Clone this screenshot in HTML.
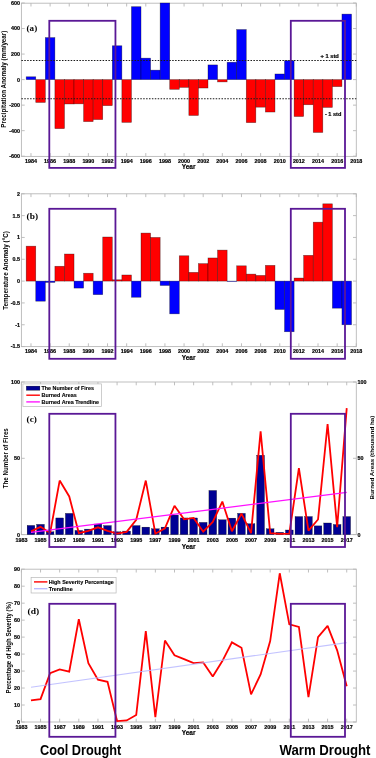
<!DOCTYPE html>
<html><head><meta charset="utf-8"><title>Figure</title>
<style>
html,body{margin:0;padding:0;background:#fff;}
body{width:376px;height:758px;overflow:hidden;}
svg{display:block;will-change:transform;filter:blur(0.25px);}
.t{font-family:"Liberation Sans", sans-serif;font-weight:bold;font-size:5.4px;fill:#000;stroke:#000;stroke-width:0.18px;}
.lg{font-family:"Liberation Sans", sans-serif;font-weight:bold;font-size:5.4px;fill:#000;stroke:#000;stroke-width:0.12px;}
.yl{font-family:"Liberation Sans", sans-serif;font-weight:bold;font-size:6.5px;fill:#000;stroke:#000;stroke-width:0.15px;}
.dr{font-family:"Liberation Sans", sans-serif;font-weight:bold;font-size:13.8px;fill:#000;}
.bb{fill:#0000ff;stroke:#000;stroke-opacity:0.5;stroke-width:0.6;}
.rr{fill:#ff0000;stroke:#000;stroke-opacity:0.5;stroke-width:0.6;}
</style></head>
<body>
<svg width="376" height="758" viewBox="0 0 376 758">
<rect width="376" height="758" fill="#fff"/>
<rect x="21.4" y="3.2" width="334.9" height="153.2" fill="none" stroke="#b8b8b8" stroke-width="0.9"/>
<line x1="30.97" y1="156.4" x2="30.97" y2="153.1" stroke="#b8b8b8" stroke-width="0.9"/>
<line x1="30.97" y1="3.2" x2="30.97" y2="6.5" stroke="#b8b8b8" stroke-width="0.9"/>
<text x="30.97" y="162.7" text-anchor="middle" class="t">1984</text>
<line x1="50.11" y1="156.4" x2="50.11" y2="153.1" stroke="#b8b8b8" stroke-width="0.9"/>
<line x1="50.11" y1="3.2" x2="50.11" y2="6.5" stroke="#b8b8b8" stroke-width="0.9"/>
<text x="50.11" y="162.7" text-anchor="middle" class="t">1986</text>
<line x1="69.24" y1="156.4" x2="69.24" y2="153.1" stroke="#b8b8b8" stroke-width="0.9"/>
<line x1="69.24" y1="3.2" x2="69.24" y2="6.5" stroke="#b8b8b8" stroke-width="0.9"/>
<text x="69.24" y="162.7" text-anchor="middle" class="t">1988</text>
<line x1="88.38" y1="156.4" x2="88.38" y2="153.1" stroke="#b8b8b8" stroke-width="0.9"/>
<line x1="88.38" y1="3.2" x2="88.38" y2="6.5" stroke="#b8b8b8" stroke-width="0.9"/>
<text x="88.38" y="162.7" text-anchor="middle" class="t">1990</text>
<line x1="107.52" y1="156.4" x2="107.52" y2="153.1" stroke="#b8b8b8" stroke-width="0.9"/>
<line x1="107.52" y1="3.2" x2="107.52" y2="6.5" stroke="#b8b8b8" stroke-width="0.9"/>
<text x="107.52" y="162.7" text-anchor="middle" class="t">1992</text>
<line x1="126.65" y1="156.4" x2="126.65" y2="153.1" stroke="#b8b8b8" stroke-width="0.9"/>
<line x1="126.65" y1="3.2" x2="126.65" y2="6.5" stroke="#b8b8b8" stroke-width="0.9"/>
<text x="126.65" y="162.7" text-anchor="middle" class="t">1994</text>
<line x1="145.79" y1="156.4" x2="145.79" y2="153.1" stroke="#b8b8b8" stroke-width="0.9"/>
<line x1="145.79" y1="3.2" x2="145.79" y2="6.5" stroke="#b8b8b8" stroke-width="0.9"/>
<text x="145.79" y="162.7" text-anchor="middle" class="t">1996</text>
<line x1="164.93" y1="156.4" x2="164.93" y2="153.1" stroke="#b8b8b8" stroke-width="0.9"/>
<line x1="164.93" y1="3.2" x2="164.93" y2="6.5" stroke="#b8b8b8" stroke-width="0.9"/>
<text x="164.93" y="162.7" text-anchor="middle" class="t">1998</text>
<line x1="184.07" y1="156.4" x2="184.07" y2="153.1" stroke="#b8b8b8" stroke-width="0.9"/>
<line x1="184.07" y1="3.2" x2="184.07" y2="6.5" stroke="#b8b8b8" stroke-width="0.9"/>
<text x="184.07" y="162.7" text-anchor="middle" class="t">2000</text>
<line x1="203.2" y1="156.4" x2="203.2" y2="153.1" stroke="#b8b8b8" stroke-width="0.9"/>
<line x1="203.2" y1="3.2" x2="203.2" y2="6.5" stroke="#b8b8b8" stroke-width="0.9"/>
<text x="203.2" y="162.7" text-anchor="middle" class="t">2002</text>
<line x1="222.34" y1="156.4" x2="222.34" y2="153.1" stroke="#b8b8b8" stroke-width="0.9"/>
<line x1="222.34" y1="3.2" x2="222.34" y2="6.5" stroke="#b8b8b8" stroke-width="0.9"/>
<text x="222.34" y="162.7" text-anchor="middle" class="t">2004</text>
<line x1="241.48" y1="156.4" x2="241.48" y2="153.1" stroke="#b8b8b8" stroke-width="0.9"/>
<line x1="241.48" y1="3.2" x2="241.48" y2="6.5" stroke="#b8b8b8" stroke-width="0.9"/>
<text x="241.48" y="162.7" text-anchor="middle" class="t">2006</text>
<line x1="260.61" y1="156.4" x2="260.61" y2="153.1" stroke="#b8b8b8" stroke-width="0.9"/>
<line x1="260.61" y1="3.2" x2="260.61" y2="6.5" stroke="#b8b8b8" stroke-width="0.9"/>
<text x="260.61" y="162.7" text-anchor="middle" class="t">2008</text>
<line x1="279.75" y1="156.4" x2="279.75" y2="153.1" stroke="#b8b8b8" stroke-width="0.9"/>
<line x1="279.75" y1="3.2" x2="279.75" y2="6.5" stroke="#b8b8b8" stroke-width="0.9"/>
<text x="279.75" y="162.7" text-anchor="middle" class="t">2010</text>
<line x1="298.89" y1="156.4" x2="298.89" y2="153.1" stroke="#b8b8b8" stroke-width="0.9"/>
<line x1="298.89" y1="3.2" x2="298.89" y2="6.5" stroke="#b8b8b8" stroke-width="0.9"/>
<text x="298.89" y="162.7" text-anchor="middle" class="t">2012</text>
<line x1="318.03" y1="156.4" x2="318.03" y2="153.1" stroke="#b8b8b8" stroke-width="0.9"/>
<line x1="318.03" y1="3.2" x2="318.03" y2="6.5" stroke="#b8b8b8" stroke-width="0.9"/>
<text x="318.03" y="162.7" text-anchor="middle" class="t">2014</text>
<line x1="337.16" y1="156.4" x2="337.16" y2="153.1" stroke="#b8b8b8" stroke-width="0.9"/>
<line x1="337.16" y1="3.2" x2="337.16" y2="6.5" stroke="#b8b8b8" stroke-width="0.9"/>
<text x="337.16" y="162.7" text-anchor="middle" class="t">2016</text>
<line x1="356.3" y1="156.4" x2="356.3" y2="153.1" stroke="#b8b8b8" stroke-width="0.9"/>
<line x1="356.3" y1="3.2" x2="356.3" y2="6.5" stroke="#b8b8b8" stroke-width="0.9"/>
<text x="356.3" y="162.7" text-anchor="middle" class="t">2018</text>
<line x1="21.4" y1="3" x2="24.7" y2="3" stroke="#b8b8b8" stroke-width="0.9"/>
<line x1="356.3" y1="3" x2="353" y2="3" stroke="#b8b8b8" stroke-width="0.9"/>
<text x="20" y="4.9" text-anchor="end" class="t">600</text>
<line x1="21.4" y1="28.53" x2="24.7" y2="28.53" stroke="#b8b8b8" stroke-width="0.9"/>
<line x1="356.3" y1="28.53" x2="353" y2="28.53" stroke="#b8b8b8" stroke-width="0.9"/>
<text x="20" y="30.43" text-anchor="end" class="t">400</text>
<line x1="21.4" y1="54.07" x2="24.7" y2="54.07" stroke="#b8b8b8" stroke-width="0.9"/>
<line x1="356.3" y1="54.07" x2="353" y2="54.07" stroke="#b8b8b8" stroke-width="0.9"/>
<text x="20" y="55.97" text-anchor="end" class="t">200</text>
<line x1="21.4" y1="79.6" x2="24.7" y2="79.6" stroke="#b8b8b8" stroke-width="0.9"/>
<line x1="356.3" y1="79.6" x2="353" y2="79.6" stroke="#b8b8b8" stroke-width="0.9"/>
<text x="20" y="81.5" text-anchor="end" class="t">0</text>
<line x1="21.4" y1="105.13" x2="24.7" y2="105.13" stroke="#b8b8b8" stroke-width="0.9"/>
<line x1="356.3" y1="105.13" x2="353" y2="105.13" stroke="#b8b8b8" stroke-width="0.9"/>
<text x="20" y="107.03" text-anchor="end" class="t">-200</text>
<line x1="21.4" y1="130.67" x2="24.7" y2="130.67" stroke="#b8b8b8" stroke-width="0.9"/>
<line x1="356.3" y1="130.67" x2="353" y2="130.67" stroke="#b8b8b8" stroke-width="0.9"/>
<text x="20" y="132.57" text-anchor="end" class="t">-400</text>
<line x1="21.4" y1="156.2" x2="24.7" y2="156.2" stroke="#b8b8b8" stroke-width="0.9"/>
<line x1="356.3" y1="156.2" x2="353" y2="156.2" stroke="#b8b8b8" stroke-width="0.9"/>
<text x="20" y="158.1" text-anchor="end" class="t">-600</text>
<rect x="26.18" y="76.79" width="9.57" height="2.81" class="bb"/>
<rect x="35.75" y="79.6" width="9.57" height="22.85" class="rr"/>
<rect x="45.32" y="37.6" width="9.57" height="42" class="bb"/>
<rect x="54.89" y="79.6" width="9.57" height="49.02" class="rr"/>
<rect x="64.46" y="79.6" width="9.57" height="24.38" class="rr"/>
<rect x="74.03" y="79.6" width="9.57" height="24.26" class="rr"/>
<rect x="83.6" y="79.6" width="9.57" height="42" class="rr"/>
<rect x="93.16" y="79.6" width="9.57" height="39.96" class="rr"/>
<rect x="102.73" y="79.6" width="9.57" height="26.04" class="rr"/>
<rect x="112.3" y="45.77" width="9.57" height="33.83" class="bb"/>
<rect x="121.87" y="79.6" width="9.57" height="42.77" class="rr"/>
<rect x="131.44" y="6.7" width="9.57" height="72.9" class="bb"/>
<rect x="141.01" y="58.15" width="9.57" height="21.45" class="bb"/>
<rect x="150.58" y="70.15" width="9.57" height="9.45" class="bb"/>
<rect x="160.14" y="3" width="9.57" height="76.6" class="bb"/>
<rect x="169.71" y="79.6" width="9.57" height="9.7" class="rr"/>
<rect x="179.28" y="79.6" width="9.57" height="7.79" class="rr"/>
<rect x="188.85" y="79.6" width="9.57" height="35.87" class="rr"/>
<rect x="198.42" y="79.6" width="9.57" height="8.43" class="rr"/>
<rect x="207.99" y="64.92" width="9.57" height="14.68" class="bb"/>
<rect x="217.56" y="79.6" width="9.57" height="2.3" class="rr"/>
<rect x="227.12" y="62.24" width="9.57" height="17.36" class="bb"/>
<rect x="236.69" y="29.55" width="9.57" height="50.05" class="bb"/>
<rect x="246.26" y="79.6" width="9.57" height="43.02" class="rr"/>
<rect x="255.83" y="79.6" width="9.57" height="27.58" class="rr"/>
<rect x="265.4" y="79.6" width="9.57" height="32.43" class="rr"/>
<rect x="274.97" y="73.98" width="9.57" height="5.62" class="bb"/>
<rect x="284.54" y="60.71" width="9.57" height="18.89" class="bb"/>
<rect x="294.1" y="79.6" width="9.57" height="36.9" class="rr"/>
<rect x="303.67" y="79.6" width="9.57" height="25.15" class="rr"/>
<rect x="313.24" y="79.6" width="9.57" height="52.85" class="rr"/>
<rect x="322.81" y="79.6" width="9.57" height="27.83" class="rr"/>
<rect x="332.38" y="79.6" width="9.57" height="7.02" class="rr"/>
<rect x="341.95" y="14.11" width="9.57" height="65.49" class="bb"/>
<line x1="21.4" y1="60.45" x2="356.3" y2="60.45" stroke="#1a1a1a" stroke-width="1.1" stroke-dasharray="1.5 1.4"/>
<line x1="21.4" y1="98.75" x2="356.3" y2="98.75" stroke="#1a1a1a" stroke-width="1.1" stroke-dasharray="1.5 1.4"/>
<text x="320.6" y="57.9" class="t" textLength="18.2" lengthAdjust="spacingAndGlyphs">+ 1 std</text>
<text x="324.9" y="115.8" class="t" textLength="16.4" lengthAdjust="spacingAndGlyphs">- 1 std</text>
<text x="26.6" y="31" font-family='"Liberation Serif", serif' font-weight="bold" font-size="9" textLength="10.6" lengthAdjust="spacingAndGlyphs">(a)</text>
<text x="188.6" y="169.3" text-anchor="middle" class="yl">Year</text>
<text x="6" y="79.2" transform="rotate(-90 6 79.2)" text-anchor="middle" font-size="6.4" font-weight="bold" font-family='"Liberation Sans", sans-serif' textLength="97" lengthAdjust="spacingAndGlyphs">Precipitation Anomaly (mm/year)</text>
<rect x="49.3" y="20.8" width="66.15" height="147.1" fill="none" stroke="#5a1896" stroke-width="1.8"/>
<rect x="290.8" y="20.8" width="54.2" height="147.1" fill="none" stroke="#5a1896" stroke-width="1.8"/>
<rect x="21.4" y="193.8" width="334.9" height="152.8" fill="none" stroke="#b8b8b8" stroke-width="0.9"/>
<line x1="30.97" y1="346.6" x2="30.97" y2="343.3" stroke="#b8b8b8" stroke-width="0.9"/>
<line x1="30.97" y1="193.8" x2="30.97" y2="197.1" stroke="#b8b8b8" stroke-width="0.9"/>
<text x="30.97" y="353" text-anchor="middle" class="t">1984</text>
<line x1="50.11" y1="346.6" x2="50.11" y2="343.3" stroke="#b8b8b8" stroke-width="0.9"/>
<line x1="50.11" y1="193.8" x2="50.11" y2="197.1" stroke="#b8b8b8" stroke-width="0.9"/>
<text x="50.11" y="353" text-anchor="middle" class="t">1986</text>
<line x1="69.24" y1="346.6" x2="69.24" y2="343.3" stroke="#b8b8b8" stroke-width="0.9"/>
<line x1="69.24" y1="193.8" x2="69.24" y2="197.1" stroke="#b8b8b8" stroke-width="0.9"/>
<text x="69.24" y="353" text-anchor="middle" class="t">1988</text>
<line x1="88.38" y1="346.6" x2="88.38" y2="343.3" stroke="#b8b8b8" stroke-width="0.9"/>
<line x1="88.38" y1="193.8" x2="88.38" y2="197.1" stroke="#b8b8b8" stroke-width="0.9"/>
<text x="88.38" y="353" text-anchor="middle" class="t">1990</text>
<line x1="107.52" y1="346.6" x2="107.52" y2="343.3" stroke="#b8b8b8" stroke-width="0.9"/>
<line x1="107.52" y1="193.8" x2="107.52" y2="197.1" stroke="#b8b8b8" stroke-width="0.9"/>
<text x="107.52" y="353" text-anchor="middle" class="t">1992</text>
<line x1="126.65" y1="346.6" x2="126.65" y2="343.3" stroke="#b8b8b8" stroke-width="0.9"/>
<line x1="126.65" y1="193.8" x2="126.65" y2="197.1" stroke="#b8b8b8" stroke-width="0.9"/>
<text x="126.65" y="353" text-anchor="middle" class="t">1994</text>
<line x1="145.79" y1="346.6" x2="145.79" y2="343.3" stroke="#b8b8b8" stroke-width="0.9"/>
<line x1="145.79" y1="193.8" x2="145.79" y2="197.1" stroke="#b8b8b8" stroke-width="0.9"/>
<text x="145.79" y="353" text-anchor="middle" class="t">1996</text>
<line x1="164.93" y1="346.6" x2="164.93" y2="343.3" stroke="#b8b8b8" stroke-width="0.9"/>
<line x1="164.93" y1="193.8" x2="164.93" y2="197.1" stroke="#b8b8b8" stroke-width="0.9"/>
<text x="164.93" y="353" text-anchor="middle" class="t">1998</text>
<line x1="184.07" y1="346.6" x2="184.07" y2="343.3" stroke="#b8b8b8" stroke-width="0.9"/>
<line x1="184.07" y1="193.8" x2="184.07" y2="197.1" stroke="#b8b8b8" stroke-width="0.9"/>
<text x="184.07" y="353" text-anchor="middle" class="t">2000</text>
<line x1="203.2" y1="346.6" x2="203.2" y2="343.3" stroke="#b8b8b8" stroke-width="0.9"/>
<line x1="203.2" y1="193.8" x2="203.2" y2="197.1" stroke="#b8b8b8" stroke-width="0.9"/>
<text x="203.2" y="353" text-anchor="middle" class="t">2002</text>
<line x1="222.34" y1="346.6" x2="222.34" y2="343.3" stroke="#b8b8b8" stroke-width="0.9"/>
<line x1="222.34" y1="193.8" x2="222.34" y2="197.1" stroke="#b8b8b8" stroke-width="0.9"/>
<text x="222.34" y="353" text-anchor="middle" class="t">2004</text>
<line x1="241.48" y1="346.6" x2="241.48" y2="343.3" stroke="#b8b8b8" stroke-width="0.9"/>
<line x1="241.48" y1="193.8" x2="241.48" y2="197.1" stroke="#b8b8b8" stroke-width="0.9"/>
<text x="241.48" y="353" text-anchor="middle" class="t">2006</text>
<line x1="260.61" y1="346.6" x2="260.61" y2="343.3" stroke="#b8b8b8" stroke-width="0.9"/>
<line x1="260.61" y1="193.8" x2="260.61" y2="197.1" stroke="#b8b8b8" stroke-width="0.9"/>
<text x="260.61" y="353" text-anchor="middle" class="t">2008</text>
<line x1="279.75" y1="346.6" x2="279.75" y2="343.3" stroke="#b8b8b8" stroke-width="0.9"/>
<line x1="279.75" y1="193.8" x2="279.75" y2="197.1" stroke="#b8b8b8" stroke-width="0.9"/>
<text x="279.75" y="353" text-anchor="middle" class="t">2010</text>
<line x1="298.89" y1="346.6" x2="298.89" y2="343.3" stroke="#b8b8b8" stroke-width="0.9"/>
<line x1="298.89" y1="193.8" x2="298.89" y2="197.1" stroke="#b8b8b8" stroke-width="0.9"/>
<text x="298.89" y="353" text-anchor="middle" class="t">2012</text>
<line x1="318.03" y1="346.6" x2="318.03" y2="343.3" stroke="#b8b8b8" stroke-width="0.9"/>
<line x1="318.03" y1="193.8" x2="318.03" y2="197.1" stroke="#b8b8b8" stroke-width="0.9"/>
<text x="318.03" y="353" text-anchor="middle" class="t">2014</text>
<line x1="337.16" y1="346.6" x2="337.16" y2="343.3" stroke="#b8b8b8" stroke-width="0.9"/>
<line x1="337.16" y1="193.8" x2="337.16" y2="197.1" stroke="#b8b8b8" stroke-width="0.9"/>
<text x="337.16" y="353" text-anchor="middle" class="t">2016</text>
<line x1="356.3" y1="346.6" x2="356.3" y2="343.3" stroke="#b8b8b8" stroke-width="0.9"/>
<line x1="356.3" y1="193.8" x2="356.3" y2="197.1" stroke="#b8b8b8" stroke-width="0.9"/>
<text x="356.3" y="353" text-anchor="middle" class="t">2018</text>
<line x1="21.4" y1="193.79" x2="24.7" y2="193.79" stroke="#b8b8b8" stroke-width="0.9"/>
<line x1="356.3" y1="193.79" x2="353" y2="193.79" stroke="#b8b8b8" stroke-width="0.9"/>
<text x="20" y="195.69" text-anchor="end" class="t">2</text>
<line x1="21.4" y1="215.61" x2="24.7" y2="215.61" stroke="#b8b8b8" stroke-width="0.9"/>
<line x1="356.3" y1="215.61" x2="353" y2="215.61" stroke="#b8b8b8" stroke-width="0.9"/>
<text x="20" y="217.51" text-anchor="end" class="t">1.5</text>
<line x1="21.4" y1="237.44" x2="24.7" y2="237.44" stroke="#b8b8b8" stroke-width="0.9"/>
<line x1="356.3" y1="237.44" x2="353" y2="237.44" stroke="#b8b8b8" stroke-width="0.9"/>
<text x="20" y="239.34" text-anchor="end" class="t">1</text>
<line x1="21.4" y1="259.27" x2="24.7" y2="259.27" stroke="#b8b8b8" stroke-width="0.9"/>
<line x1="356.3" y1="259.27" x2="353" y2="259.27" stroke="#b8b8b8" stroke-width="0.9"/>
<text x="20" y="261.17" text-anchor="end" class="t">0.5</text>
<line x1="21.4" y1="281.1" x2="24.7" y2="281.1" stroke="#b8b8b8" stroke-width="0.9"/>
<line x1="356.3" y1="281.1" x2="353" y2="281.1" stroke="#b8b8b8" stroke-width="0.9"/>
<text x="20" y="283" text-anchor="end" class="t">0</text>
<line x1="21.4" y1="302.93" x2="24.7" y2="302.93" stroke="#b8b8b8" stroke-width="0.9"/>
<line x1="356.3" y1="302.93" x2="353" y2="302.93" stroke="#b8b8b8" stroke-width="0.9"/>
<text x="20" y="304.83" text-anchor="end" class="t">-0.5</text>
<line x1="21.4" y1="324.76" x2="24.7" y2="324.76" stroke="#b8b8b8" stroke-width="0.9"/>
<line x1="356.3" y1="324.76" x2="353" y2="324.76" stroke="#b8b8b8" stroke-width="0.9"/>
<text x="20" y="326.66" text-anchor="end" class="t">-1</text>
<line x1="21.4" y1="346.59" x2="24.7" y2="346.59" stroke="#b8b8b8" stroke-width="0.9"/>
<line x1="356.3" y1="346.59" x2="353" y2="346.59" stroke="#b8b8b8" stroke-width="0.9"/>
<text x="20" y="348.49" text-anchor="end" class="t">-1.5</text>
<rect x="26.18" y="246.17" width="9.57" height="34.93" class="rr"/>
<rect x="35.75" y="281.1" width="9.57" height="20.08" class="bb"/>
<rect x="45.32" y="281.1" width="9.57" height="1.31" class="bb"/>
<rect x="54.89" y="266.26" width="9.57" height="14.84" class="rr"/>
<rect x="64.46" y="254.03" width="9.57" height="27.07" class="rr"/>
<rect x="74.03" y="281.1" width="9.57" height="6.99" class="bb"/>
<rect x="83.6" y="273.24" width="9.57" height="7.86" class="rr"/>
<rect x="93.16" y="281.1" width="9.57" height="13.53" class="bb"/>
<rect x="102.73" y="237.01" width="9.57" height="44.09" class="rr"/>
<rect x="112.3" y="279.79" width="9.57" height="1.31" class="rr"/>
<rect x="121.87" y="274.99" width="9.57" height="6.11" class="rr"/>
<rect x="131.44" y="281.1" width="9.57" height="16.15" class="bb"/>
<rect x="141.01" y="233.08" width="9.57" height="48.02" class="rr"/>
<rect x="150.58" y="237.44" width="9.57" height="43.66" class="rr"/>
<rect x="160.14" y="281.1" width="9.57" height="4.37" class="bb"/>
<rect x="169.71" y="281.1" width="9.57" height="32.74" class="bb"/>
<rect x="179.28" y="255.78" width="9.57" height="25.32" class="rr"/>
<rect x="188.85" y="272.37" width="9.57" height="8.73" class="rr"/>
<rect x="198.42" y="263.64" width="9.57" height="17.46" class="rr"/>
<rect x="207.99" y="257.96" width="9.57" height="23.14" class="rr"/>
<rect x="217.56" y="250.1" width="9.57" height="31" class="rr"/>
<rect x="227.12" y="281.1" width="9.57" height="0.44" class="bb"/>
<rect x="236.69" y="265.82" width="9.57" height="15.28" class="rr"/>
<rect x="246.26" y="274.11" width="9.57" height="6.99" class="rr"/>
<rect x="255.83" y="275.42" width="9.57" height="5.68" class="rr"/>
<rect x="265.4" y="265.38" width="9.57" height="15.72" class="rr"/>
<rect x="274.97" y="281.1" width="9.57" height="28.38" class="bb"/>
<rect x="284.54" y="281.1" width="9.57" height="50.64" class="bb"/>
<rect x="294.1" y="278.04" width="9.57" height="3.06" class="rr"/>
<rect x="303.67" y="255.34" width="9.57" height="25.76" class="rr"/>
<rect x="313.24" y="222.16" width="9.57" height="58.94" class="rr"/>
<rect x="322.81" y="203.83" width="9.57" height="77.27" class="rr"/>
<rect x="332.38" y="281.1" width="9.57" height="27.07" class="bb"/>
<rect x="341.95" y="281.1" width="9.57" height="43.66" class="bb"/>
<text x="26.6" y="218.8" font-family='"Liberation Serif", serif' font-weight="bold" font-size="9" textLength="11.4" lengthAdjust="spacingAndGlyphs">(b)</text>
<text x="188.6" y="359.7" text-anchor="middle" class="yl">Year</text>
<text x="8" y="270.5" transform="rotate(-90 8 270.5)" text-anchor="middle" font-size="6.8" font-weight="bold" font-family='"Liberation Sans", sans-serif' textLength="78.7" lengthAdjust="spacingAndGlyphs">Temperature Anomaly (°C)</text>
<rect x="49.3" y="208.8" width="66.15" height="150" fill="none" stroke="#5a1896" stroke-width="1.8"/>
<rect x="290.8" y="208.8" width="54.2" height="150" fill="none" stroke="#5a1896" stroke-width="1.8"/>
<rect x="21.4" y="382" width="334.9" height="152.6" fill="none" stroke="#b8b8b8" stroke-width="0.9"/>
<line x1="21.4" y1="534.6" x2="21.4" y2="531.3" stroke="#b8b8b8" stroke-width="0.9"/>
<line x1="21.4" y1="382" x2="21.4" y2="385.3" stroke="#b8b8b8" stroke-width="0.9"/>
<text x="21.4" y="541.6" text-anchor="middle" class="t">1983</text>
<line x1="40.54" y1="534.6" x2="40.54" y2="531.3" stroke="#b8b8b8" stroke-width="0.9"/>
<line x1="40.54" y1="382" x2="40.54" y2="385.3" stroke="#b8b8b8" stroke-width="0.9"/>
<text x="40.54" y="541.6" text-anchor="middle" class="t">1985</text>
<line x1="59.67" y1="534.6" x2="59.67" y2="531.3" stroke="#b8b8b8" stroke-width="0.9"/>
<line x1="59.67" y1="382" x2="59.67" y2="385.3" stroke="#b8b8b8" stroke-width="0.9"/>
<text x="59.67" y="541.6" text-anchor="middle" class="t">1987</text>
<line x1="78.81" y1="534.6" x2="78.81" y2="531.3" stroke="#b8b8b8" stroke-width="0.9"/>
<line x1="78.81" y1="382" x2="78.81" y2="385.3" stroke="#b8b8b8" stroke-width="0.9"/>
<text x="78.81" y="541.6" text-anchor="middle" class="t">1989</text>
<line x1="97.95" y1="534.6" x2="97.95" y2="531.3" stroke="#b8b8b8" stroke-width="0.9"/>
<line x1="97.95" y1="382" x2="97.95" y2="385.3" stroke="#b8b8b8" stroke-width="0.9"/>
<text x="97.95" y="541.6" text-anchor="middle" class="t">1991</text>
<line x1="117.09" y1="534.6" x2="117.09" y2="531.3" stroke="#b8b8b8" stroke-width="0.9"/>
<line x1="117.09" y1="382" x2="117.09" y2="385.3" stroke="#b8b8b8" stroke-width="0.9"/>
<text x="117.09" y="541.6" text-anchor="middle" class="t">1993</text>
<line x1="136.22" y1="534.6" x2="136.22" y2="531.3" stroke="#b8b8b8" stroke-width="0.9"/>
<line x1="136.22" y1="382" x2="136.22" y2="385.3" stroke="#b8b8b8" stroke-width="0.9"/>
<text x="136.22" y="541.6" text-anchor="middle" class="t">1995</text>
<line x1="155.36" y1="534.6" x2="155.36" y2="531.3" stroke="#b8b8b8" stroke-width="0.9"/>
<line x1="155.36" y1="382" x2="155.36" y2="385.3" stroke="#b8b8b8" stroke-width="0.9"/>
<text x="155.36" y="541.6" text-anchor="middle" class="t">1997</text>
<line x1="174.5" y1="534.6" x2="174.5" y2="531.3" stroke="#b8b8b8" stroke-width="0.9"/>
<line x1="174.5" y1="382" x2="174.5" y2="385.3" stroke="#b8b8b8" stroke-width="0.9"/>
<text x="174.5" y="541.6" text-anchor="middle" class="t">1999</text>
<line x1="193.63" y1="534.6" x2="193.63" y2="531.3" stroke="#b8b8b8" stroke-width="0.9"/>
<line x1="193.63" y1="382" x2="193.63" y2="385.3" stroke="#b8b8b8" stroke-width="0.9"/>
<text x="193.63" y="541.6" text-anchor="middle" class="t">2001</text>
<line x1="212.77" y1="534.6" x2="212.77" y2="531.3" stroke="#b8b8b8" stroke-width="0.9"/>
<line x1="212.77" y1="382" x2="212.77" y2="385.3" stroke="#b8b8b8" stroke-width="0.9"/>
<text x="212.77" y="541.6" text-anchor="middle" class="t">2003</text>
<line x1="231.91" y1="534.6" x2="231.91" y2="531.3" stroke="#b8b8b8" stroke-width="0.9"/>
<line x1="231.91" y1="382" x2="231.91" y2="385.3" stroke="#b8b8b8" stroke-width="0.9"/>
<text x="231.91" y="541.6" text-anchor="middle" class="t">2005</text>
<line x1="251.05" y1="534.6" x2="251.05" y2="531.3" stroke="#b8b8b8" stroke-width="0.9"/>
<line x1="251.05" y1="382" x2="251.05" y2="385.3" stroke="#b8b8b8" stroke-width="0.9"/>
<text x="251.05" y="541.6" text-anchor="middle" class="t">2007</text>
<line x1="270.18" y1="534.6" x2="270.18" y2="531.3" stroke="#b8b8b8" stroke-width="0.9"/>
<line x1="270.18" y1="382" x2="270.18" y2="385.3" stroke="#b8b8b8" stroke-width="0.9"/>
<text x="270.18" y="541.6" text-anchor="middle" class="t">2009</text>
<line x1="289.32" y1="534.6" x2="289.32" y2="531.3" stroke="#b8b8b8" stroke-width="0.9"/>
<line x1="289.32" y1="382" x2="289.32" y2="385.3" stroke="#b8b8b8" stroke-width="0.9"/>
<text x="289.32" y="541.6" text-anchor="middle" class="t">2011</text>
<line x1="308.46" y1="534.6" x2="308.46" y2="531.3" stroke="#b8b8b8" stroke-width="0.9"/>
<line x1="308.46" y1="382" x2="308.46" y2="385.3" stroke="#b8b8b8" stroke-width="0.9"/>
<text x="308.46" y="541.6" text-anchor="middle" class="t">2013</text>
<line x1="327.59" y1="534.6" x2="327.59" y2="531.3" stroke="#b8b8b8" stroke-width="0.9"/>
<line x1="327.59" y1="382" x2="327.59" y2="385.3" stroke="#b8b8b8" stroke-width="0.9"/>
<text x="327.59" y="541.6" text-anchor="middle" class="t">2015</text>
<line x1="346.73" y1="534.6" x2="346.73" y2="531.3" stroke="#b8b8b8" stroke-width="0.9"/>
<line x1="346.73" y1="382" x2="346.73" y2="385.3" stroke="#b8b8b8" stroke-width="0.9"/>
<text x="346.73" y="541.6" text-anchor="middle" class="t">2017</text>
<line x1="21.4" y1="534.6" x2="24.7" y2="534.6" stroke="#b8b8b8" stroke-width="0.9"/>
<line x1="356.3" y1="534.6" x2="353" y2="534.6" stroke="#b8b8b8" stroke-width="0.9"/>
<text x="20" y="536.5" text-anchor="end" class="t">0</text>
<text x="357.6" y="536.5" text-anchor="start" class="t">0</text>
<line x1="21.4" y1="458.3" x2="24.7" y2="458.3" stroke="#b8b8b8" stroke-width="0.9"/>
<line x1="356.3" y1="458.3" x2="353" y2="458.3" stroke="#b8b8b8" stroke-width="0.9"/>
<text x="20" y="460.2" text-anchor="end" class="t">50</text>
<text x="357.6" y="460.2" text-anchor="start" class="t">50</text>
<line x1="21.4" y1="382" x2="24.7" y2="382" stroke="#b8b8b8" stroke-width="0.9"/>
<line x1="356.3" y1="382" x2="353" y2="382" stroke="#b8b8b8" stroke-width="0.9"/>
<text x="20" y="383.9" text-anchor="end" class="t">100</text>
<text x="357.6" y="383.9" text-anchor="start" class="t">100</text>
<rect x="27.14" y="525.44" width="7.65" height="9.16" fill="#000094" stroke="#000" stroke-width="0.3"/>
<rect x="36.71" y="524.38" width="7.65" height="10.22" fill="#000094" stroke="#000" stroke-width="0.3"/>
<rect x="46.28" y="531.85" width="7.65" height="2.75" fill="#000094" stroke="#000" stroke-width="0.3"/>
<rect x="55.85" y="517.97" width="7.65" height="16.63" fill="#000094" stroke="#000" stroke-width="0.3"/>
<rect x="65.42" y="513.39" width="7.65" height="21.21" fill="#000094" stroke="#000" stroke-width="0.3"/>
<rect x="74.98" y="530.48" width="7.65" height="4.12" fill="#000094" stroke="#000" stroke-width="0.3"/>
<rect x="84.55" y="529.11" width="7.65" height="5.49" fill="#000094" stroke="#000" stroke-width="0.3"/>
<rect x="94.12" y="524.07" width="7.65" height="10.53" fill="#000094" stroke="#000" stroke-width="0.3"/>
<rect x="103.69" y="525.6" width="7.65" height="9" fill="#000094" stroke="#000" stroke-width="0.3"/>
<rect x="113.26" y="531.85" width="7.65" height="2.75" fill="#000094" stroke="#000" stroke-width="0.3"/>
<rect x="122.83" y="531.09" width="7.65" height="3.51" fill="#000094" stroke="#000" stroke-width="0.3"/>
<rect x="132.4" y="525.6" width="7.65" height="9" fill="#000094" stroke="#000" stroke-width="0.3"/>
<rect x="141.96" y="527.12" width="7.65" height="7.48" fill="#000094" stroke="#000" stroke-width="0.3"/>
<rect x="151.53" y="528.8" width="7.65" height="5.8" fill="#000094" stroke="#000" stroke-width="0.3"/>
<rect x="161.1" y="527.12" width="7.65" height="7.48" fill="#000094" stroke="#000" stroke-width="0.3"/>
<rect x="170.67" y="515.07" width="7.65" height="19.53" fill="#000094" stroke="#000" stroke-width="0.3"/>
<rect x="180.24" y="517.97" width="7.65" height="16.63" fill="#000094" stroke="#000" stroke-width="0.3"/>
<rect x="189.81" y="517.97" width="7.65" height="16.63" fill="#000094" stroke="#000" stroke-width="0.3"/>
<rect x="199.38" y="522.39" width="7.65" height="12.21" fill="#000094" stroke="#000" stroke-width="0.3"/>
<rect x="208.94" y="490.5" width="7.65" height="44.1" fill="#000094" stroke="#000" stroke-width="0.3"/>
<rect x="218.51" y="519.8" width="7.65" height="14.8" fill="#000094" stroke="#000" stroke-width="0.3"/>
<rect x="228.08" y="518.12" width="7.65" height="16.48" fill="#000094" stroke="#000" stroke-width="0.3"/>
<rect x="237.65" y="513.39" width="7.65" height="21.21" fill="#000094" stroke="#000" stroke-width="0.3"/>
<rect x="247.22" y="523.77" width="7.65" height="10.83" fill="#000094" stroke="#000" stroke-width="0.3"/>
<rect x="256.79" y="455.25" width="7.65" height="79.35" fill="#000094" stroke="#000" stroke-width="0.3"/>
<rect x="266.36" y="528.8" width="7.65" height="5.8" fill="#000094" stroke="#000" stroke-width="0.3"/>
<rect x="275.92" y="532.31" width="7.65" height="2.29" fill="#000094" stroke="#000" stroke-width="0.3"/>
<rect x="285.49" y="530.02" width="7.65" height="4.58" fill="#000094" stroke="#000" stroke-width="0.3"/>
<rect x="295.06" y="516.59" width="7.65" height="18.01" fill="#000094" stroke="#000" stroke-width="0.3"/>
<rect x="304.63" y="516.59" width="7.65" height="18.01" fill="#000094" stroke="#000" stroke-width="0.3"/>
<rect x="314.2" y="525.9" width="7.65" height="8.7" fill="#000094" stroke="#000" stroke-width="0.3"/>
<rect x="323.77" y="523" width="7.65" height="11.6" fill="#000094" stroke="#000" stroke-width="0.3"/>
<rect x="333.34" y="524.53" width="7.65" height="10.07" fill="#000094" stroke="#000" stroke-width="0.3"/>
<rect x="342.9" y="516.59" width="7.65" height="18.01" fill="#000094" stroke="#000" stroke-width="0.3"/>
<polyline points="30.97,531.4 40.54,526.82 50.11,533.07 59.67,480.58 69.24,496.45 78.81,533.07 88.38,530.78 97.95,527.28 107.52,530.78 117.09,533.53 126.65,531.85 136.22,519.8 145.79,480.58 155.36,533.68 164.93,528.34 174.5,505.76 184.07,519.34 193.63,517.97 203.2,531.7 212.77,521.93 222.34,501.64 231.91,531.24 241.48,513.69 251.05,533.07 260.61,431.44 270.18,533.07 279.75,533.84 289.32,533.53 298.89,468.22 308.46,530.63 318.03,519.49 327.59,423.97 337.16,527.12 346.73,408.09" fill="none" stroke="#ff0000" stroke-width="1.8" stroke-linejoin="miter" stroke-miterlimit="1.8"/>
<line x1="30.97" y1="532.42" x2="346.73" y2="492.43" stroke="#ff10ff" stroke-width="1.25"/>
<rect x="22.9" y="383.9" width="78.5" height="22.7" fill="#fff" stroke="#b8b8b8" stroke-width="0.7"/>
<rect x="26.3" y="386.1" width="13.6" height="4.1" fill="#000094" stroke="#000" stroke-width="0.3"/>
<line x1="26.3" y1="395.2" x2="39.9" y2="395.2" stroke="#ff0000" stroke-width="1.4"/>
<line x1="26.3" y1="401.9" x2="39.9" y2="401.9" stroke="#ff10ff" stroke-width="1.35"/>
<text x="41.5" y="390.2" class="lg">The Number of Fires</text>
<text x="41.5" y="397.0" class="lg">Burned Areas</text>
<text x="41.5" y="403.7" class="lg">Burned Area Trendline</text>
<text x="26.6" y="421.8" font-family='"Liberation Serif", serif' font-weight="bold" font-size="9" textLength="10.3" lengthAdjust="spacingAndGlyphs">(c)</text>
<text x="188.6" y="548.5" text-anchor="middle" class="yl">Year</text>
<text x="8" y="458.2" transform="rotate(-90 8 458.2)" text-anchor="middle" font-size="6.8" font-weight="bold" font-family='"Liberation Sans", sans-serif' textLength="60" lengthAdjust="spacingAndGlyphs">The Number of Fires</text>
<text x="373.9" y="457.6" transform="rotate(-90 373.9 457.6)" text-anchor="middle" font-size="6.1" font-weight="bold" font-family='"Liberation Sans", sans-serif' textLength="84" lengthAdjust="spacingAndGlyphs">Burned Areas (thousand ha)</text>
<rect x="49.3" y="413.8" width="66.15" height="133.2" fill="none" stroke="#5a1896" stroke-width="1.8"/>
<rect x="290.8" y="413.8" width="54.2" height="133.2" fill="none" stroke="#5a1896" stroke-width="1.8"/>
<rect x="21.4" y="569.2" width="334.9" height="152.8" fill="none" stroke="#b8b8b8" stroke-width="0.9"/>
<line x1="21.4" y1="722" x2="21.4" y2="718.7" stroke="#b8b8b8" stroke-width="0.9"/>
<line x1="21.4" y1="569.2" x2="21.4" y2="572.5" stroke="#b8b8b8" stroke-width="0.9"/>
<text x="21.4" y="728.6" text-anchor="middle" class="t">1983</text>
<line x1="40.54" y1="722" x2="40.54" y2="718.7" stroke="#b8b8b8" stroke-width="0.9"/>
<line x1="40.54" y1="569.2" x2="40.54" y2="572.5" stroke="#b8b8b8" stroke-width="0.9"/>
<text x="40.54" y="728.6" text-anchor="middle" class="t">1985</text>
<line x1="59.67" y1="722" x2="59.67" y2="718.7" stroke="#b8b8b8" stroke-width="0.9"/>
<line x1="59.67" y1="569.2" x2="59.67" y2="572.5" stroke="#b8b8b8" stroke-width="0.9"/>
<text x="59.67" y="728.6" text-anchor="middle" class="t">1987</text>
<line x1="78.81" y1="722" x2="78.81" y2="718.7" stroke="#b8b8b8" stroke-width="0.9"/>
<line x1="78.81" y1="569.2" x2="78.81" y2="572.5" stroke="#b8b8b8" stroke-width="0.9"/>
<text x="78.81" y="728.6" text-anchor="middle" class="t">1989</text>
<line x1="97.95" y1="722" x2="97.95" y2="718.7" stroke="#b8b8b8" stroke-width="0.9"/>
<line x1="97.95" y1="569.2" x2="97.95" y2="572.5" stroke="#b8b8b8" stroke-width="0.9"/>
<text x="97.95" y="728.6" text-anchor="middle" class="t">1991</text>
<line x1="117.09" y1="722" x2="117.09" y2="718.7" stroke="#b8b8b8" stroke-width="0.9"/>
<line x1="117.09" y1="569.2" x2="117.09" y2="572.5" stroke="#b8b8b8" stroke-width="0.9"/>
<text x="117.09" y="728.6" text-anchor="middle" class="t">1993</text>
<line x1="136.22" y1="722" x2="136.22" y2="718.7" stroke="#b8b8b8" stroke-width="0.9"/>
<line x1="136.22" y1="569.2" x2="136.22" y2="572.5" stroke="#b8b8b8" stroke-width="0.9"/>
<text x="136.22" y="728.6" text-anchor="middle" class="t">1995</text>
<line x1="155.36" y1="722" x2="155.36" y2="718.7" stroke="#b8b8b8" stroke-width="0.9"/>
<line x1="155.36" y1="569.2" x2="155.36" y2="572.5" stroke="#b8b8b8" stroke-width="0.9"/>
<text x="155.36" y="728.6" text-anchor="middle" class="t">1997</text>
<line x1="174.5" y1="722" x2="174.5" y2="718.7" stroke="#b8b8b8" stroke-width="0.9"/>
<line x1="174.5" y1="569.2" x2="174.5" y2="572.5" stroke="#b8b8b8" stroke-width="0.9"/>
<text x="174.5" y="728.6" text-anchor="middle" class="t">1999</text>
<line x1="193.63" y1="722" x2="193.63" y2="718.7" stroke="#b8b8b8" stroke-width="0.9"/>
<line x1="193.63" y1="569.2" x2="193.63" y2="572.5" stroke="#b8b8b8" stroke-width="0.9"/>
<text x="193.63" y="728.6" text-anchor="middle" class="t">2001</text>
<line x1="212.77" y1="722" x2="212.77" y2="718.7" stroke="#b8b8b8" stroke-width="0.9"/>
<line x1="212.77" y1="569.2" x2="212.77" y2="572.5" stroke="#b8b8b8" stroke-width="0.9"/>
<text x="212.77" y="728.6" text-anchor="middle" class="t">2003</text>
<line x1="231.91" y1="722" x2="231.91" y2="718.7" stroke="#b8b8b8" stroke-width="0.9"/>
<line x1="231.91" y1="569.2" x2="231.91" y2="572.5" stroke="#b8b8b8" stroke-width="0.9"/>
<text x="231.91" y="728.6" text-anchor="middle" class="t">2005</text>
<line x1="251.05" y1="722" x2="251.05" y2="718.7" stroke="#b8b8b8" stroke-width="0.9"/>
<line x1="251.05" y1="569.2" x2="251.05" y2="572.5" stroke="#b8b8b8" stroke-width="0.9"/>
<text x="251.05" y="728.6" text-anchor="middle" class="t">2007</text>
<line x1="270.18" y1="722" x2="270.18" y2="718.7" stroke="#b8b8b8" stroke-width="0.9"/>
<line x1="270.18" y1="569.2" x2="270.18" y2="572.5" stroke="#b8b8b8" stroke-width="0.9"/>
<text x="270.18" y="728.6" text-anchor="middle" class="t">2009</text>
<line x1="289.32" y1="722" x2="289.32" y2="718.7" stroke="#b8b8b8" stroke-width="0.9"/>
<line x1="289.32" y1="569.2" x2="289.32" y2="572.5" stroke="#b8b8b8" stroke-width="0.9"/>
<text x="289.32" y="728.6" text-anchor="middle" class="t">2011</text>
<line x1="308.46" y1="722" x2="308.46" y2="718.7" stroke="#b8b8b8" stroke-width="0.9"/>
<line x1="308.46" y1="569.2" x2="308.46" y2="572.5" stroke="#b8b8b8" stroke-width="0.9"/>
<text x="308.46" y="728.6" text-anchor="middle" class="t">2013</text>
<line x1="327.59" y1="722" x2="327.59" y2="718.7" stroke="#b8b8b8" stroke-width="0.9"/>
<line x1="327.59" y1="569.2" x2="327.59" y2="572.5" stroke="#b8b8b8" stroke-width="0.9"/>
<text x="327.59" y="728.6" text-anchor="middle" class="t">2015</text>
<line x1="346.73" y1="722" x2="346.73" y2="718.7" stroke="#b8b8b8" stroke-width="0.9"/>
<line x1="346.73" y1="569.2" x2="346.73" y2="572.5" stroke="#b8b8b8" stroke-width="0.9"/>
<text x="346.73" y="728.6" text-anchor="middle" class="t">2017</text>
<line x1="21.4" y1="569.2" x2="24.7" y2="569.2" stroke="#b8b8b8" stroke-width="0.9"/>
<line x1="356.3" y1="569.2" x2="353" y2="569.2" stroke="#b8b8b8" stroke-width="0.9"/>
<text x="20" y="571.1" text-anchor="end" class="t">90</text>
<line x1="21.4" y1="586.18" x2="24.7" y2="586.18" stroke="#b8b8b8" stroke-width="0.9"/>
<line x1="356.3" y1="586.18" x2="353" y2="586.18" stroke="#b8b8b8" stroke-width="0.9"/>
<text x="20" y="588.08" text-anchor="end" class="t">80</text>
<line x1="21.4" y1="603.16" x2="24.7" y2="603.16" stroke="#b8b8b8" stroke-width="0.9"/>
<line x1="356.3" y1="603.16" x2="353" y2="603.16" stroke="#b8b8b8" stroke-width="0.9"/>
<text x="20" y="605.06" text-anchor="end" class="t">70</text>
<line x1="21.4" y1="620.13" x2="24.7" y2="620.13" stroke="#b8b8b8" stroke-width="0.9"/>
<line x1="356.3" y1="620.13" x2="353" y2="620.13" stroke="#b8b8b8" stroke-width="0.9"/>
<text x="20" y="622.03" text-anchor="end" class="t">60</text>
<line x1="21.4" y1="637.11" x2="24.7" y2="637.11" stroke="#b8b8b8" stroke-width="0.9"/>
<line x1="356.3" y1="637.11" x2="353" y2="637.11" stroke="#b8b8b8" stroke-width="0.9"/>
<text x="20" y="639.01" text-anchor="end" class="t">50</text>
<line x1="21.4" y1="654.09" x2="24.7" y2="654.09" stroke="#b8b8b8" stroke-width="0.9"/>
<line x1="356.3" y1="654.09" x2="353" y2="654.09" stroke="#b8b8b8" stroke-width="0.9"/>
<text x="20" y="655.99" text-anchor="end" class="t">40</text>
<line x1="21.4" y1="671.07" x2="24.7" y2="671.07" stroke="#b8b8b8" stroke-width="0.9"/>
<line x1="356.3" y1="671.07" x2="353" y2="671.07" stroke="#b8b8b8" stroke-width="0.9"/>
<text x="20" y="672.97" text-anchor="end" class="t">30</text>
<line x1="21.4" y1="688.04" x2="24.7" y2="688.04" stroke="#b8b8b8" stroke-width="0.9"/>
<line x1="356.3" y1="688.04" x2="353" y2="688.04" stroke="#b8b8b8" stroke-width="0.9"/>
<text x="20" y="689.94" text-anchor="end" class="t">20</text>
<line x1="21.4" y1="705.02" x2="24.7" y2="705.02" stroke="#b8b8b8" stroke-width="0.9"/>
<line x1="356.3" y1="705.02" x2="353" y2="705.02" stroke="#b8b8b8" stroke-width="0.9"/>
<text x="20" y="706.92" text-anchor="end" class="t">10</text>
<line x1="21.4" y1="722" x2="24.7" y2="722" stroke="#b8b8b8" stroke-width="0.9"/>
<line x1="356.3" y1="722" x2="353" y2="722" stroke="#b8b8b8" stroke-width="0.9"/>
<text x="20" y="723.9" text-anchor="end" class="t">0</text>
<polyline points="30.97,700.44 40.54,699.08 50.11,673.27 59.67,669.37 69.24,671.58 78.81,619.28 88.38,663.09 97.95,679.73 107.52,681.76 117.09,721.15 126.65,720.47 136.22,715.04 145.79,631.17 155.36,717.25 164.93,640.51 174.5,655.28 184.07,659.18 193.63,663.09 203.2,662.41 212.77,676.5 222.34,661.05 231.91,642.37 241.48,647.81 251.05,694.33 260.61,674.46 270.18,641.02 279.75,573.27 289.32,624.38 298.89,626.92 308.46,697.04 318.03,637.11 327.59,625.91 337.16,650.35 346.73,686.35" fill="none" stroke="#ff0000" stroke-width="1.8" stroke-linejoin="miter" stroke-miterlimit="1.8"/>
<line x1="30.97" y1="687.2" x2="346.73" y2="642.65" stroke="#b8b8ff" stroke-width="1.15" stroke-opacity="0.85"/>
<rect x="31.1" y="577.4" width="85" height="15.6" fill="#fff" stroke="#b8b8b8" stroke-width="0.7"/>
<line x1="34" y1="581.9" x2="47.4" y2="581.9" stroke="#ff0000" stroke-width="1.4"/>
<line x1="34" y1="588.7" x2="47.4" y2="588.7" stroke="#b8b8ff" stroke-width="1.3"/>
<text x="48.7" y="583.7" class="lg">High Severity Percentage</text>
<text x="48.7" y="590.5" class="lg">Trendline</text>
<text x="27.5" y="614" font-family='"Liberation Serif", serif' font-weight="bold" font-size="9" textLength="11.6" lengthAdjust="spacingAndGlyphs">(d)</text>
<text x="188.6" y="735.4" text-anchor="middle" class="yl">Year</text>
<text x="11" y="647.7" transform="rotate(-90 11 647.7)" text-anchor="middle" font-size="6.4" font-weight="bold" font-family='"Liberation Sans", sans-serif' textLength="91.4" lengthAdjust="spacingAndGlyphs">Percentage of High Severity (%)</text>
<rect x="49.3" y="603.8" width="66.15" height="133" fill="none" stroke="#5a1896" stroke-width="1.8"/>
<rect x="290.8" y="603.8" width="54.2" height="133" fill="none" stroke="#5a1896" stroke-width="1.8"/>
<text x="80.6" y="754.6" text-anchor="middle" class="dr" textLength="81.2" lengthAdjust="spacingAndGlyphs">Cool Drought</text>
<text x="325.0" y="754.6" text-anchor="middle" class="dr" textLength="91.0" lengthAdjust="spacingAndGlyphs">Warm Drought</text>
</svg>
</body></html>
